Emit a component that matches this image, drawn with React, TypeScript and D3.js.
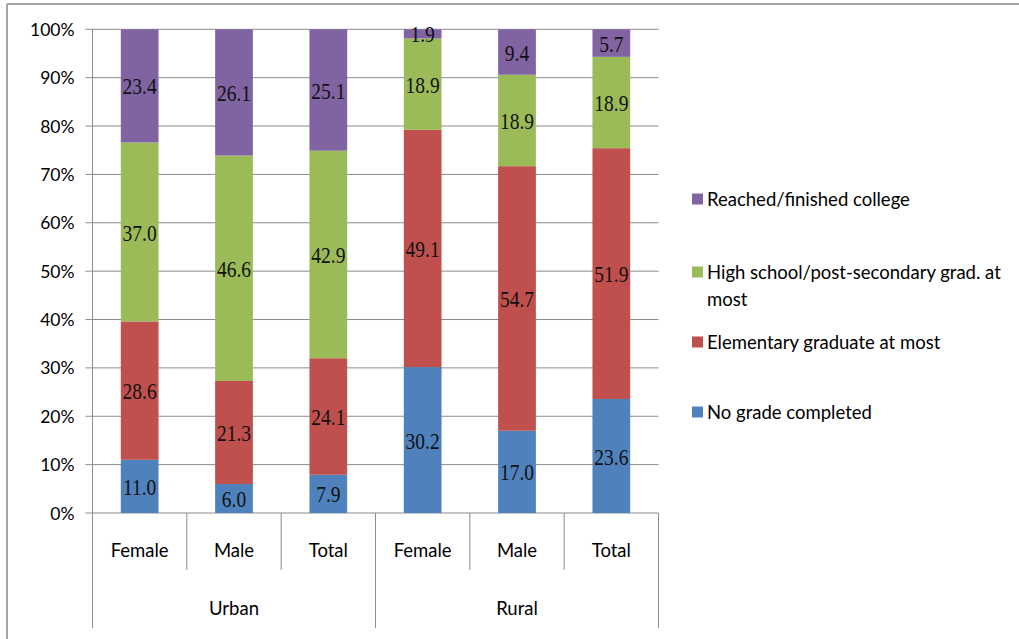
import React from "react";
import * as d3 from "d3";

const categories = ["Female", "Male", "Total", "Female", "Male", "Total"];
const groups = ["Urban", "Rural"];
const seriesNames = [
  "No grade completed",
  "Elementary graduate at most",
  "High school/post-secondary grad. at most",
  "Reached/finished college",
];
const noGrade = [11.0, 6.0, 7.9, 30.2, 17.0, 23.6];
const elementary = [28.6, 21.3, 24.1, 49.1, 54.7, 51.9];
const highSchool = [37.0, 46.6, 42.9, 18.9, 18.9, 18.9];
const college = [23.4, 26.1, 25.1, 1.9, 9.4, 5.7];
const colors = ["#4F81BD", "#C0504D", "#9BBB59", "#8064A2"];
const yTicks = [0, 10, 20, 30, 40, 50, 60, 70, 80, 90, 100];

const W = 1019;
const H = 639;
const left = 92.5;
const right = 658.5;
const top = 29.3;
const bottom = 513;

export default function App() {
  const series = [noGrade, elementary, highSchool, college];
  const x = d3
    .scaleBand<number>()
    .domain(categories.map((_, i) => i))
    .range([left, right])
    .paddingInner(0.6)
    .paddingOuter(0.3);
  const y = d3.scaleLinear().domain([0, 100]).range([bottom, top]);
  const rows = categories.map((_, i) => {
    const o: any = { i };
    series.forEach((s, k) => (o["s" + k] = s[i]));
    return o;
  });
  const stack = d3
    .stack<any>()
    .keys(series.map((_, k) => "s" + k))
    .offset(d3.stackOffsetExpand);
  const stacked = stack(rows);
  const step = x.step();
  const fontSans = "Lato, 'Open Sans', sans-serif";
  const fontSerif = "'Liberation Serif', 'DejaVu Serif', serif";

  const legendItems = [
    { k: 3, lines: [seriesNames[3]], y: 199 },
    { k: 2, lines: ["High school/post-secondary grad. at", "most"], y: 272 },
    { k: 1, lines: [seriesNames[1]], y: 342 },
    { k: 0, lines: [seriesNames[0]], y: 412 },
  ];

  return (
    <svg
      width={W}
      height={H}
      style={{ position: "absolute", left: 0, top: 0, background: "#fff" }}
    >
      <rect x={0} y={0} width={W} height={H} fill="#fff" />
      {/* outer frame */}
      <line x1={7} y1={4} x2={W} y2={4} stroke="#a6a6a6" strokeWidth={2} />
      <line x1={7} y1={4} x2={7} y2={H} stroke="#a6a6a6" strokeWidth={2} />

      {/* gridlines */}
      {yTicks.map((t) => (
        <g key={t}>
          <line
            x1={left - 7}
            x2={right}
            y1={y(t)}
            y2={y(t)}
            stroke="#8c8c8c"
            strokeWidth={1}
          />
          <text
            x={left - 18}
            y={y(t)}
            textAnchor="end"
            dominantBaseline="central"
            fontFamily={fontSans}
            fontSize={17.5}
            fill="#000"
          >
            {t + "%"}
          </text>
        </g>
      ))}
      {/* left axis */}
      <line x1={left} x2={left} y1={top} y2={628} stroke="#8c8c8c" />

      {/* bars */}
      {stacked.map((layer, k) => (
        <g key={k}>
          {layer.map((d, i) => (
            <rect
              key={i}
              x={x(i)}
              width={x.bandwidth()}
              y={y(d[1] * 100)}
              height={y(d[0] * 100) - y(d[1] * 100)}
              fill={colors[k]}
            />
          ))}
        </g>
      ))}
      {/* data labels */}
      {stacked.map((layer, k) => (
        <g key={"l" + k}>
          {layer.map((d, i) => {
            const cx = (x(i) as number) + x.bandwidth() / 2;
            const cy = y(((d[0] + d[1]) / 2) * 100) + 1;
            return (
              <text
                key={i}
                transform={`translate(${cx},${cy}) scale(1,1.18)`}
                textAnchor="middle"
                dominantBaseline="central"
                fontFamily={fontSerif}
                fontSize={19.5}
                fill="#111"
              >
                {series[k][i].toFixed(1)}
              </text>
            );
          })}
        </g>
      ))}

      {/* category axis */}
      {d3.range(categories.length + 1).map((j) => {
        const xx = left + j * step;
        const long = j % 3 === 0;
        return (
          <line
            key={j}
            x1={xx}
            x2={xx}
            y1={bottom}
            y2={long ? 628 : 570}
            stroke="#8c8c8c"
          />
        );
      })}
      {categories.map((c, i) => (
        <text
          key={i}
          x={(x(i) as number) + x.bandwidth() / 2}
          y={550}
          textAnchor="middle"
          dominantBaseline="central"
          fontFamily={fontSans}
          fontSize={18.5}
          fill="#000"
        >
          {c}
        </text>
      ))}
      {groups.map((g, gi) => (
        <text
          key={g}
          x={left + (gi * 3 + 1.5) * step}
          y={608}
          textAnchor="middle"
          dominantBaseline="central"
          fontFamily={fontSans}
          fontSize={18.5}
          fill="#000"
        >
          {g}
        </text>
      ))}

      {/* legend */}
      {legendItems.map((it) => (
        <g key={it.k}>
          <rect x={692} y={it.y - 5.5} width={11} height={11} fill={colors[it.k]} />
          {it.lines.map((ln, li) => (
            <text
              key={li}
              x={707}
              y={it.y + li * 27}
              dominantBaseline="central"
              fontFamily={fontSans}
              fontSize={18.5}
              fill="#000"
            >
              {ln}
            </text>
          ))}
        </g>
      ))}
    </svg>
  );
}
